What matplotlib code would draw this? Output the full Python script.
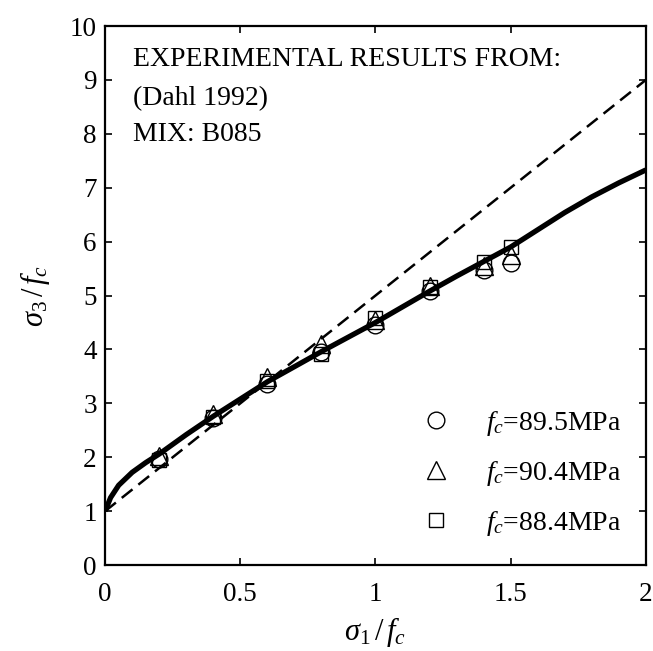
import matplotlib
matplotlib.use("Agg")
import matplotlib.pyplot as plt

# Datos
x_exp = [0.2, 0.4, 0.6, 0.8, 1.0, 1.2, 1.4, 1.5]
y_895 = [1.97, 2.72, 3.35, 3.95, 4.45, 5.08, 5.47, 5.60]
y_904 = [2.02, 2.80, 3.48, 4.10, 4.55, 5.18, 5.55, 5.75]
y_884 = [1.95, 2.75, 3.42, 3.92, 4.58, 5.15, 5.62, 5.90]

# Curva del modelo (linea gruesa)
x_model = [0.0, 0.02, 0.05, 0.1, 0.15, 0.2, 0.3, 0.4, 0.5, 0.6, 0.7, 0.8, 0.9,
           1.0, 1.1, 1.2, 1.3, 1.4, 1.5, 1.6, 1.7, 1.8, 1.9, 2.0]
y_model = [1.0, 1.25, 1.48, 1.72, 1.90, 2.06, 2.42, 2.76, 3.08, 3.40, 3.68, 3.96, 4.23,
           4.50, 4.79, 5.08, 5.36, 5.63, 5.90, 6.22, 6.54, 6.83, 7.09, 7.33]

# Linea discontinua
x_dash = [0.0, 2.0]
y_dash = [1.0, 9.0]

plt.rcParams['font.family'] = 'Liberation Serif'
plt.rcParams['mathtext.fontset'] = 'custom'
plt.rcParams['mathtext.rm'] = 'Liberation Serif'
plt.rcParams['mathtext.it'] = 'Liberation Serif:italic'

fig = plt.figure(figsize=(6.53, 6.51), dpi=100)
ax = fig.add_axes([0.161, 0.132, 0.828, 0.828])

ax.plot(x_model, y_model, color='black', linewidth=3.8, solid_capstyle='butt')
ax.plot(x_dash, y_dash, color='black', linewidth=1.8, linestyle=(0, (5.5, 3)))

ms = 12
ax.plot(x_exp, y_895, linestyle='none', marker='o', markersize=ms, markerfacecolor='none',
        markeredgecolor='black', markeredgewidth=1.0, label=r'$f_c$=89.5MPa')
ax.plot(x_exp, y_904, linestyle='none', marker='^', markersize=ms + 1, markerfacecolor='none',
        markeredgecolor='black', markeredgewidth=1.0, label=r'$f_c$=90.4MPa')
ax.plot(x_exp, y_884, linestyle='none', marker='s', markersize=ms - 2, markerfacecolor='none',
        markeredgecolor='black', markeredgewidth=1.0, label=r'$f_c$=88.4MPa')

ax.set_xlim(0, 2)
ax.set_ylim(0, 10)
ax.set_xticks([0, 0.5, 1, 1.5, 2])
ax.set_xticklabels(['0', '0.5', '1', '1.5', '2'])
ax.set_yticks(range(0, 11))
ax.tick_params(direction='in', top=True, right=True, length=5, width=1.2,
               labelsize=19.5)
ax.tick_params(axis='x', pad=12)
ax.tick_params(axis='y', pad=6)
for s in ax.spines.values():
    s.set_linewidth(1.6)

ax.set_xlabel(r'$\sigma_1\,/\,f_c$', fontsize=22, labelpad=6)
ax.set_ylabel(r'$\sigma_3\,/\,f_c$', fontsize=22, labelpad=13)

ax.text(0.104, 9.37, 'EXPERIMENTAL RESULTS FROM:', fontsize=20, va='center')
ax.text(0.104, 8.66, '(Dahl 1992)', fontsize=20, va='center')
ax.text(0.104, 7.98, 'MIX: B085', fontsize=20, va='center')

ax.legend(loc='lower right', frameon=False, fontsize=20, handletextpad=0.8,
          borderaxespad=0.3, labelspacing=0.75, bbox_to_anchor=(0.99, 0.015))

fig.savefig('out.png', dpi=100)
